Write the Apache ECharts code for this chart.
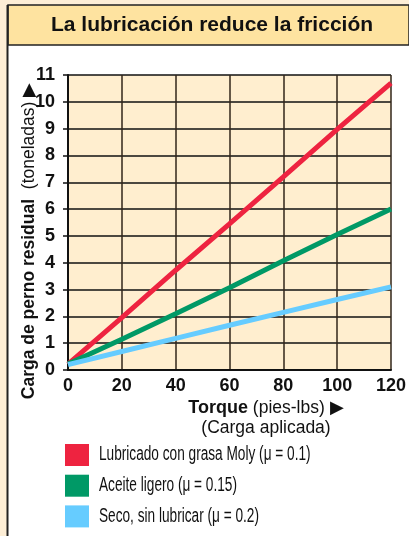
<!DOCTYPE html>
<html>
<head>
<meta charset="utf-8">
<script src="https://cdn.jsdelivr.net/npm/echarts@6/dist/echarts.min.js"></script>
<style>
  html, body { margin: 0; padding: 0; background: #fdeed6; }
  #chart { width: 409px; height: 536px; }
</style>
</head>
<body>
<div id="chart"></div>
<script>
// torque (pies-lbs) values where the lines were read
var torque = [0, 20, 40, 60, 80, 100, 120];
// residual bolt load (toneladas)
var moly = [0.22, 1.95, 3.72, 5.45, 7.2, 8.97, 10.7];
var aceite = [0.22, 1.15, 2.1, 3.07, 4.07, 5.05, 6.0];
var seco = [0.2, 0.69, 1.18, 1.67, 2.15, 2.63, 3.1];
var seriesNames = ['Lubricado con grasa Moly (\u03bc = 0.1)', 'Aceite ligero (\u03bc = 0.15)', 'Seco, sin lubricar (\u03bc = 0.2)'];
var seriesColors = ['#ee2340', '#009966', '#66ccff'];

var font = "'Liberation Sans', Arial, sans-serif";

function pairs(ys) {
    return torque.map(function (x, i) { return [x, ys[i]]; });
}

var chart = echarts.init(document.getElementById('chart'), null, { renderer: 'canvas' });

var series = [moly, aceite, seco].map(function (ys, i) {
    return {
        type: 'line',
        name: seriesNames[i],
        data: pairs(ys),
        symbol: 'none',
        silent: true,
        z: 5 + i,
        lineStyle: { color: seriesColors[i], width: 5 },
        itemStyle: { color: seriesColors[i] }
    };
});

// legend labels are drawn condensed (no narrow font installed)
var legendLabels = seriesNames.map(function (name, i) {
    return {
        type: 'text', z: 20, x: 99, y: 455 + i * 30.7, scaleX: 0.7,
        style: {
            text: name, font: '19.5px ' + font, fill: '#111',
            align: 'left', verticalAlign: 'middle'
        }
    };
});

chart.setOption({
    backgroundColor: '#fdeed6',
    animation: false,
    grid: {
        left: 68, right: 14, top: 75, bottom: 166,
        show: true, backgroundColor: '#ffeecf', borderWidth: 0
    },
    xAxis: {
        type: 'value', min: 0, max: 120, interval: 20,
        axisLine: { show: true, lineStyle: { color: '#111', width: 2 } },
        axisTick: { show: false },
        splitLine: { show: true, lineStyle: { color: 'rgba(50,38,25,0.75)', width: 2 } },
        axisLabel: { color: '#111', fontSize: 18, fontWeight: 'bold', fontFamily: font, margin: 7 }
    },
    yAxis: {
        type: 'value', min: 0, max: 11, interval: 1,
        axisLine: { show: true, lineStyle: { color: '#111', width: 2 } },
        axisTick: { show: true, length: 5, lineStyle: { color: '#111', width: 1.5 } },
        splitLine: { show: true, lineStyle: { color: '#111', width: 1.5 } },
        axisLabel: { color: '#111', fontSize: 18, fontWeight: 'bold', fontFamily: font, margin: 13 }
    },
    legend: {
        orient: 'vertical', left: 65, top: 444,
        itemWidth: 24, itemHeight: 22, itemGap: 8.7, itemTextGap: 0,
        icon: 'rect', padding: 0, selectedMode: false,
        formatter: function () { return ''; },
        textStyle: { fontSize: 1 },
        data: seriesNames
    },
    graphic: [
        // white panel and left frame line
        { type: 'rect', z: -10, shape: { x: 8, y: 5, width: 401, height: 531 }, style: { fill: '#ffffff' } },
        { type: 'line', z: 20, shape: { x1: 7.5, y1: 5, x2: 7.5, y2: 536 }, style: { stroke: '#222', lineWidth: 2 } },
        // title band
        { type: 'rect', z: -9, shape: { x: 8, y: 5, width: 401, height: 40 }, style: { fill: '#fee3a0', stroke: '#222', lineWidth: 1.5 } },
        {
            type: 'text', z: 20, x: 212, y: 25,
            style: {
                text: 'La lubricación reduce la fricción',
                font: 'bold 21px ' + font, fill: '#111',
                align: 'center', verticalAlign: 'middle'
            }
        },
        // y axis name
        {
            type: 'text', z: 20, x: 29, y: 241, rotation: Math.PI / 2,
            style: {
                text: '{b|Carga de perno residual}{n|  (toneladas) \u25b6}',
                align: 'center', verticalAlign: 'middle',
                rich: {
                    b: { font: 'bold 17.5px ' + font, fill: '#111' },
                    n: { font: '17.5px ' + font, fill: '#111' }
                }
            }
        },
        // x axis name
        {
            type: 'text', z: 20, x: 266, y: 408,
            style: {
                text: '{b|Torque}{n| (pies-lbs) \u25b6}',
                align: 'center', verticalAlign: 'middle',
                rich: {
                    b: { font: 'bold 18px ' + font, fill: '#111' },
                    n: { font: '17.5px ' + font, fill: '#111' }
                }
            }
        },
        {
            type: 'text', z: 20, x: 266, y: 428,
            style: {
                text: '(Carga aplicada)',
                font: '17.5px ' + font, fill: '#111',
                align: 'center', verticalAlign: 'middle'
            }
        }
    ].concat(legendLabels),
    series: series
});
</script>
</body>
</html>
